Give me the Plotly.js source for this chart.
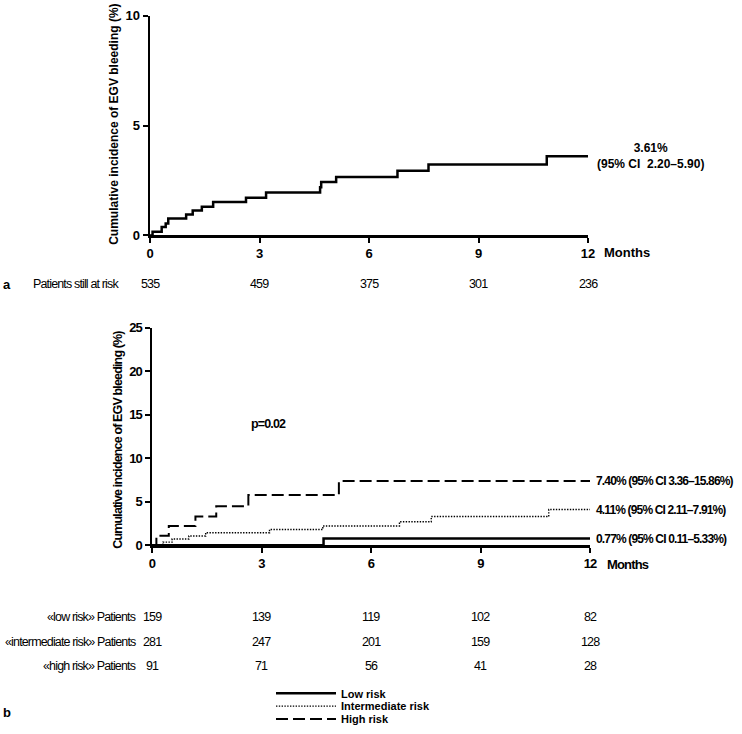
<!DOCTYPE html>
<html>
<head>
<meta charset="utf-8">
<script src="https://cdn.plot.ly/plotly-3.0.1.min.js"></script>
<style>
html,body{margin:0;padding:0;background:#fff}
#chart{width:742px;height:734px}
text[style*="Narrow"]{letter-spacing:-0.85px}
</style>
</head>
<body>
<div id="chart"></div>
<script>
// ---------- data ----------
const tickMonths = [0, 3, 6, 9, 12];

// panel a: overall cumulative incidence (step points)
const monthsAll = [0, 0.07, 0.32, 0.43, 0.50, 0.99, 1.17, 1.42, 1.73, 2.63, 3.18, 4.66, 4.69, 5.10, 6.78, 7.63, 10.87, 12];
const incAll    = [0, 0.17, 0.38, 0.54, 0.77, 0.95, 1.13, 1.31, 1.52, 1.72, 1.95, 2.19, 2.43, 2.66, 2.95, 3.23, 3.61, 3.61];
const atRiskAll = [535, 459, 375, 301, 236];

// panel b: by risk group
const monthsLow = [0, 4.70, 12];
const incLow    = [0, 0.77, 0.77];
const monthsInt = [0, 0.30, 0.55, 1.01, 1.47, 3.22, 4.68, 6.78, 7.65, 10.87, 12];
const incInt    = [0, 0.36, 0.72, 1.07, 1.44, 1.81, 2.22, 2.70, 3.30, 4.11, 4.11];
const monthsHigh = [0, 0.12, 0.46, 1.19, 1.76, 2.64, 5.12, 12];
const incHigh    = [0, 1.10, 2.20, 3.30, 4.49, 5.78, 7.40, 7.40];

const atRiskLow  = [159, 139, 119, 102, 82];
const atRiskInt  = [281, 247, 201, 159, 128];
const atRiskHigh = [91, 71, 56, 41, 28];

const groupNames = ['Low risk', 'Intermediate risk', 'High risk'];
const rowLabels = ['«low risk» Patients', '«intermediate risk» Patients', '«high risk» Patients'];
const endLabels = ['0.77% (95% CI 0.11–5.33%)', '4.11% (95% CI 2.11–7.91%)', '7.40% (95% CI 3.36–15.86%)'];
const endValues = [0.77, 4.11, 7.40];
const overallLabel = '3.61%<br>(95% CI\u00a0 2.20–5.90)';
const overallEnd = 3.61;
const pText = 'p=0.02';

// ---------- styling ----------
const H = 734, W = 742;
const py = px => 1 - px / H;
const pxX = px => px / W;
const ARIAL = '"Liberation Sans", Arial, sans-serif';
const NARROW = '"Liberation Sans Narrow", "Liberation Sans", Arial, sans-serif';

const traces = [
  {x: monthsAll, y: incAll, xaxis: 'x', yaxis: 'y', mode: 'lines', line: {shape: 'hv', color: '#000', width: 2.5}, showlegend: false, hoverinfo: 'skip'},
  {x: monthsLow, y: incLow, xaxis: 'x2', yaxis: 'y2', mode: 'lines', name: groupNames[0], legend: 'legend',
    line: {shape: 'hv', color: '#000', width: 2.5}},
  {x: monthsInt, y: incInt, xaxis: 'x2', yaxis: 'y2', mode: 'lines', name: groupNames[1], legend: 'legend2',
    line: {shape: 'hv', color: '#000', width: 1.4, dash: '1.4px,1.4px'}},
  {x: monthsHigh, y: incHigh, xaxis: 'x2', yaxis: 'y2', mode: 'lines', name: groupNames[2], legend: 'legend3',
    line: {shape: 'hv', color: '#000', width: 2, dash: '12px,5px'}}
];

const axisCommon = {
  showline: true, linecolor: '#000', linewidth: 2.5, ticks: 'outside', ticklen: 5, tickwidth: 2,
  tickcolor: '#000', showgrid: false, zeroline: false, fixedrange: true
};

const annotations = [];
// y-axis titles
annotations.push({xref: 'paper', yref: 'paper', x: pxX(114), y: py(249), xanchor: 'center', yanchor: 'bottom',
  text: '<b>Cumulative incidence of EGV bleeding (%)</b>', textangle: -90, showarrow: false,
  font: {family: ARIAL, size: 12, color: '#000'}});
annotations.push({xref: 'paper', yref: 'paper', x: pxX(118), y: py(331), xanchor: 'center', yanchor: 'top',
  text: '<b>Cumulative incidence of EGV bleeding (%)</b>', textangle: -90, showarrow: false,
  font: {family: NARROW, size: 12.5, color: '#000'}});
// Months
annotations.push({xref: 'x', yref: 'paper', x: 12, y: py(254), xanchor: 'left', yanchor: 'middle', xshift: 14,
  text: '<b>Months</b>', showarrow: false, font: {family: ARIAL, size: 13, color: '#000'}});
annotations.push({xref: 'x2', yref: 'paper', x: 12, y: py(568), xanchor: 'left', yanchor: 'middle', xshift: 15,
  text: '<b>Months</b>', showarrow: false, font: {family: NARROW, size: 13, color: '#000'}});
// end labels
annotations.push({xref: 'x', yref: 'y', x: 12, y: overallEnd, xanchor: 'left', yanchor: 'middle', xshift: 7, align: 'center',
  text: '<b>' + overallLabel + '</b>', showarrow: false, font: {family: ARIAL, size: 12, color: '#000'}});
endLabels.forEach((t, i) => {
  annotations.push({xref: 'x2', yref: 'y2', x: 12, y: endValues[i], xanchor: 'left', yanchor: 'middle', xshift: 4,
    text: '<b>' + t + '</b>', showarrow: false, font: {family: NARROW, size: 12, color: '#000'}});
});
annotations.push({xref: 'x2', yref: 'y2', x: 3.2, y: 13.9, xanchor: 'center', yanchor: 'middle',
  text: '<b>' + pText + '</b>', showarrow: false, font: {family: NARROW, size: 12.5, color: '#000'}});
// panel letters
annotations.push({xref: 'paper', yref: 'paper', x: pxX(1), y: py(286), xanchor: 'left', yanchor: 'middle',
  text: '<b>a</b>', showarrow: false, font: {family: ARIAL, size: 13, color: '#000'}});
annotations.push({xref: 'paper', yref: 'paper', x: pxX(1), y: py(717), xanchor: 'left', yanchor: 'middle',
  text: '<b>b</b>', showarrow: false, font: {family: ARIAL, size: 13, color: '#000'}});
// risk table a
annotations.push({xref: 'paper', yref: 'paper', x: pxX(31), y: py(286), xanchor: 'left', yanchor: 'middle',
  text: 'Patients still at risk', showarrow: false, font: {family: NARROW, size: 12.5, color: '#000'}});
atRiskAll.forEach((v, i) => {
  annotations.push({xref: 'x', yref: 'paper', x: tickMonths[i], y: py(286), xanchor: 'center', yanchor: 'middle',
    text: String(v), showarrow: false, font: {family: NARROW, size: 12.5, color: '#000'}});
});
// risk table b
const rowsB = [atRiskLow, atRiskInt, atRiskHigh];
const rowY = [621, 646, 671];
rowsB.forEach((row, r) => {
  annotations.push({xref: 'paper', yref: 'paper', x: pxX(138), y: py(rowY[r]), xanchor: 'right', yanchor: 'middle',
    text: rowLabels[r], showarrow: false, font: {family: NARROW, size: 12.5, color: '#000'}});
  row.forEach((v, i) => {
    annotations.push({xref: 'x2', yref: 'paper', x: tickMonths[i], y: py(rowY[r]), xanchor: 'center', yanchor: 'middle',
      text: String(v), showarrow: false, font: {family: NARROW, size: 12.5, color: '#000'}});
  });
});

const legendCommon = {xanchor: 'left', yanchor: 'middle', bgcolor: 'rgba(0,0,0,0)', borderwidth: 0,
  font: {family: ARIAL, size: 11, color: '#000', weight: 'bold'}, itemwidth: 60};
const legendY = [698, 711, 724];

const layout = {
  width: W, height: H, margin: {l: 0, r: 0, t: 0, b: 0},
  paper_bgcolor: '#fff', plot_bgcolor: '#fff',
  xaxis: Object.assign({}, axisCommon, {domain: [pxX(150), pxX(588)], range: [0, 12], tickvals: tickMonths, anchor: 'y',
    tickfont: {family: ARIAL, size: 13, color: '#000', weight: 'bold'}}),
  yaxis: Object.assign({}, axisCommon, {domain: [py(237), py(16)], range: [0, 10], tickvals: [0, 5, 10], anchor: 'x',
    tickfont: {family: ARIAL, size: 13, color: '#000', weight: 'bold'}}),
  xaxis2: Object.assign({}, axisCommon, {domain: [pxX(152), pxX(590)], range: [0, 12], tickvals: tickMonths, anchor: 'y2',
    tickfont: {family: NARROW, size: 13, color: '#000', weight: 'bold'}}),
  yaxis2: Object.assign({}, axisCommon, {domain: [py(549), py(330)], range: [0, 25], tickvals: [0, 5, 10, 15, 20, 25], anchor: 'x2',
    tickfont: {family: NARROW, size: 13, color: '#000', weight: 'bold'}}),
  showlegend: true,
  legend: Object.assign({}, legendCommon, {x: pxX(271), y: py(legendY[0])}),
  legend2: Object.assign({}, legendCommon, {x: pxX(271), y: py(legendY[1])}),
  legend3: Object.assign({}, legendCommon, {x: pxX(271), y: py(legendY[2])}),
  annotations: annotations
};

Plotly.newPlot('chart', traces, layout, {staticPlot: true, displayModeBar: false});
</script>
</body>
</html>
